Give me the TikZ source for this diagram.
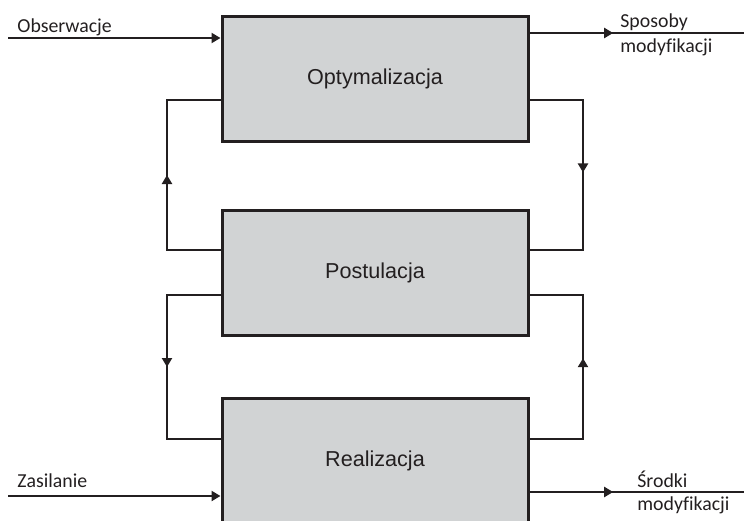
\documentclass[tikz,border=0pt]{standalone}
\usepackage{fontspec}
\setmainfont{Liberation Sans}
\newfontfamily\lblfont[Ligatures=NoCommon]{Carlito}
\usetikzlibrary{arrows.meta,decorations.markings}
\definecolor{ink}{HTML}{231F20}
\definecolor{boxfill}{HTML}{D1D3D4}
\tikzset{
  procbox/.style={draw=ink,line width=1.5pt,fill=boxfill,minimum width=153pt,minimum height=62.5pt,inner sep=0pt,font=\fontsize{10.8}{12}\selectfont,text=ink},
  conn/.style={draw=ink,line width=1.35pt},
  endtip/.style={-{Triangle[length=4.5pt,width=5pt]}},
  midarrow/.style={postaction={decorate},decoration={markings,mark=at position #1 with {\arrow{Triangle[length=4.5pt,width=5pt]}}}},
  lbl/.style={font=\lblfont\fontsize{9.9}{11}\selectfont,text=ink,anchor=base west,inner sep=0pt},
}
\begin{document}
\begin{tikzpicture}[x=0.5pt,y=-0.5pt]
\useasboundingbox (0,0) rectangle (744,520);
\clip (0,0) rectangle (744,520);
% boxes
\node[procbox] (b1) at (375,78.5) {Optymalizacja};
\node[procbox] (b2) at (375,273) {Postulacja};
\node[procbox] (b3) at (375,460.5) {Realizacja};
% helper coordinates
\coordinate (lx) at (167,0);
\coordinate (rx) at (583,0);
\coordinate (b1l) at ([yshift=-10.75pt]b1.west);
\coordinate (b1r) at ([yshift=-10.75pt]b1.east);
\coordinate (b2lu) at ([yshift=11.5pt]b2.west);
\coordinate (b2ru) at ([yshift=11.5pt]b2.east);
\coordinate (b2ld) at ([yshift=-11pt]b2.west);
\coordinate (b2rd) at ([yshift=-11pt]b2.east);
\coordinate (b3l) at ([yshift=10.75pt]b3.west);
\coordinate (b3r) at ([yshift=10.75pt]b3.east);
% loops
\draw[conn,midarrow=0.5] (b2lu) -- (b2lu -| lx) -- (b1l -| lx) -- (b1l);
\draw[conn,midarrow=0.49] (b1r) -- (b1r -| rx) -- (b2ru -| rx) -- (b2ru);
\draw[conn,midarrow=0.5] (b2ld) -- (b2ld -| lx) -- (b3l -| lx) -- (b3l);
\draw[conn,midarrow=0.535] (b3r) -- (b3r -| rx) -- (b2rd -| rx) -- (b2rd);
% inputs / outputs
\coordinate (obs) at (8,38);
\coordinate (zas) at (8,496);
\coordinate (spo) at (744,33);
\coordinate (sro) at (744,492);
\draw[conn,endtip] (obs) -- ([yshift=20.25pt]b1.west);
\draw[conn,endtip] (zas) -- ([yshift=-17.75pt]b3.west);
\draw[conn,midarrow=0.39] ([yshift=22.75pt]b1.east) -- (spo);
\draw[conn,midarrow=0.39] ([yshift=-15.75pt]b3.east) -- (sro);
% labels
\node[lbl] (tobs) at (17,32) {Obserwacje};
\node[lbl] (tspo1) at (620,27) {Sposoby};
\node[lbl] (tspo2) at (620,52) {modyfikacji};
\node[lbl] (tzas) at (17,487) {Zasilanie};
\node[lbl] (tsro1) at (637,487) {Środki};
\node[lbl] (tsro2) at (637,510) {modyfikacji};
\end{tikzpicture}
\end{document}
